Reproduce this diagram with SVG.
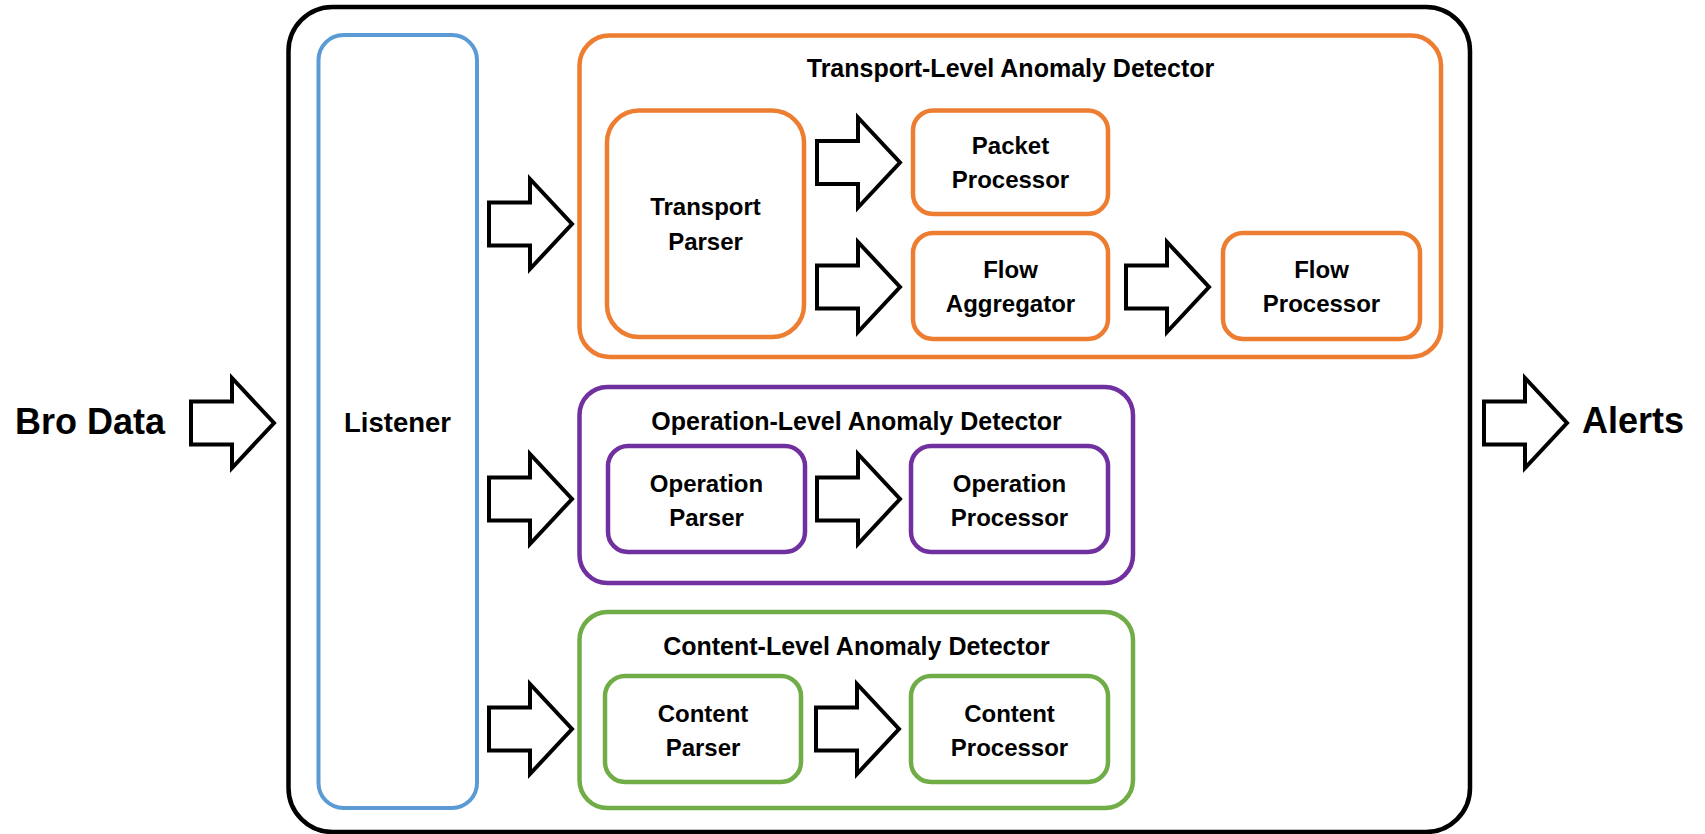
<svg xmlns="http://www.w3.org/2000/svg" width="1705" height="834" viewBox="0 0 1705 834">
  <defs>
    <style>
      .lbl { font-family: "Liberation Sans", Arial, sans-serif; font-weight: bold; fill: #000; text-anchor: middle; }
      .io { font-size: 36px; }
      .main { font-size: 27.5px; }
      .title { font-size: 25px; }
      .node { font-size: 24px; }
      .frame { fill: #fff; stroke: #000; stroke-width: 4.5; }
      .blue { fill: #fff; stroke: #5B9BD5; stroke-width: 4; }
      .orange { fill: #fff; stroke: #ED7D31; stroke-width: 4.5; }
      .purple { fill: #fff; stroke: #7030A0; stroke-width: 4.5; }
      .green { fill: #fff; stroke: #70AD47; stroke-width: 4.5; }
      .arrow { fill: #fff; stroke: #000; stroke-width: 4; stroke-linejoin: miter; }
    </style>
    <!-- block arrow, tip at the origin -->
    <path id="blockArrow" class="arrow" d="M-83,-21.5 H-42 V-45 L0,0 L-42,45 V21.5 H-83 Z"/>
  </defs>

  <rect width="1705" height="834" fill="#fff"/>

  <!-- input / output labels -->
  <g id="bro-data">
    <text class="lbl io" x="90" y="434">Bro Data</text>
  </g>
  <g id="alerts">
    <text class="lbl io" x="1582" y="433" style="text-anchor:start">Alerts</text>
  </g>

  <!-- system frame -->
  <g id="system">
    <rect class="frame" x="288.5" y="7" width="1181.5" height="825" rx="44"/>
  </g>

  <g id="listener">
    <rect class="blue" x="318.5" y="35" width="158.5" height="773" rx="25"/>
    <text class="lbl main" x="397.5" y="432">Listener</text>
  </g>

  <!-- transport-level detector -->
  <g id="transport-detector">
    <rect class="orange" x="579.5" y="35.5" width="861.5" height="321.5" rx="30"/>
    <text class="lbl title" x="1010.5" y="77">Transport-Level Anomaly Detector</text>
  </g>
  <g id="transport-parser">
    <rect class="orange" x="607" y="110.5" width="197" height="226.5" rx="32"/>
    <text class="lbl node" x="705.5" y="215">Transport</text>
    <text class="lbl node" x="705.5" y="250">Parser</text>
  </g>
  <g id="packet-processor">
    <rect class="orange" x="913" y="110.5" width="195" height="103.5" rx="20"/>
    <text class="lbl node" x="1010.5" y="154">Packet</text>
    <text class="lbl node" x="1010.5" y="188">Processor</text>
  </g>
  <g id="flow-aggregator">
    <rect class="orange" x="913" y="233" width="195" height="106" rx="20"/>
    <text class="lbl node" x="1010.5" y="278">Flow</text>
    <text class="lbl node" x="1010.5" y="312">Aggregator</text>
  </g>
  <g id="flow-processor">
    <rect class="orange" x="1223" y="233" width="197" height="106" rx="20"/>
    <text class="lbl node" x="1321.5" y="278">Flow</text>
    <text class="lbl node" x="1321.5" y="312">Processor</text>
  </g>

  <!-- operation-level detector -->
  <g id="operation-detector">
    <rect class="purple" x="579.5" y="387" width="553.5" height="196" rx="28"/>
    <text class="lbl title" x="856.5" y="430">Operation-Level Anomaly Detector</text>
  </g>
  <g id="operation-parser">
    <rect class="purple" x="608" y="446" width="197" height="106" rx="20"/>
    <text class="lbl node" x="706.5" y="492">Operation</text>
    <text class="lbl node" x="706.5" y="526">Parser</text>
  </g>
  <g id="operation-processor">
    <rect class="purple" x="911" y="446" width="197" height="106" rx="20"/>
    <text class="lbl node" x="1009.5" y="492">Operation</text>
    <text class="lbl node" x="1009.5" y="526">Processor</text>
  </g>

  <!-- content-level detector -->
  <g id="content-detector">
    <rect class="green" x="579.5" y="612" width="553.5" height="196" rx="28"/>
    <text class="lbl title" x="856.5" y="655">Content-Level Anomaly Detector</text>
  </g>
  <g id="content-parser">
    <rect class="green" x="605" y="676" width="196" height="106" rx="20"/>
    <text class="lbl node" x="703" y="722">Content</text>
    <text class="lbl node" x="703" y="756">Parser</text>
  </g>
  <g id="content-processor">
    <rect class="green" x="911" y="676" width="197" height="106" rx="20"/>
    <text class="lbl node" x="1009.5" y="722">Content</text>
    <text class="lbl node" x="1009.5" y="756">Processor</text>
  </g>

  <!-- connectors -->
  <g id="connectors">
    <use href="#blockArrow" transform="translate(274,423)"/>
    <use href="#blockArrow" transform="translate(572,224)"/>
    <use href="#blockArrow" transform="translate(572,499)"/>
    <use href="#blockArrow" transform="translate(572,729)"/>
    <use href="#blockArrow" transform="translate(900,162.5)"/>
    <use href="#blockArrow" transform="translate(900,287)"/>
    <use href="#blockArrow" transform="translate(1209,287)"/>
    <use href="#blockArrow" transform="translate(900,499)"/>
    <use href="#blockArrow" transform="translate(899,729)"/>
    <use href="#blockArrow" transform="translate(1567,423)"/>
  </g>
</svg>
